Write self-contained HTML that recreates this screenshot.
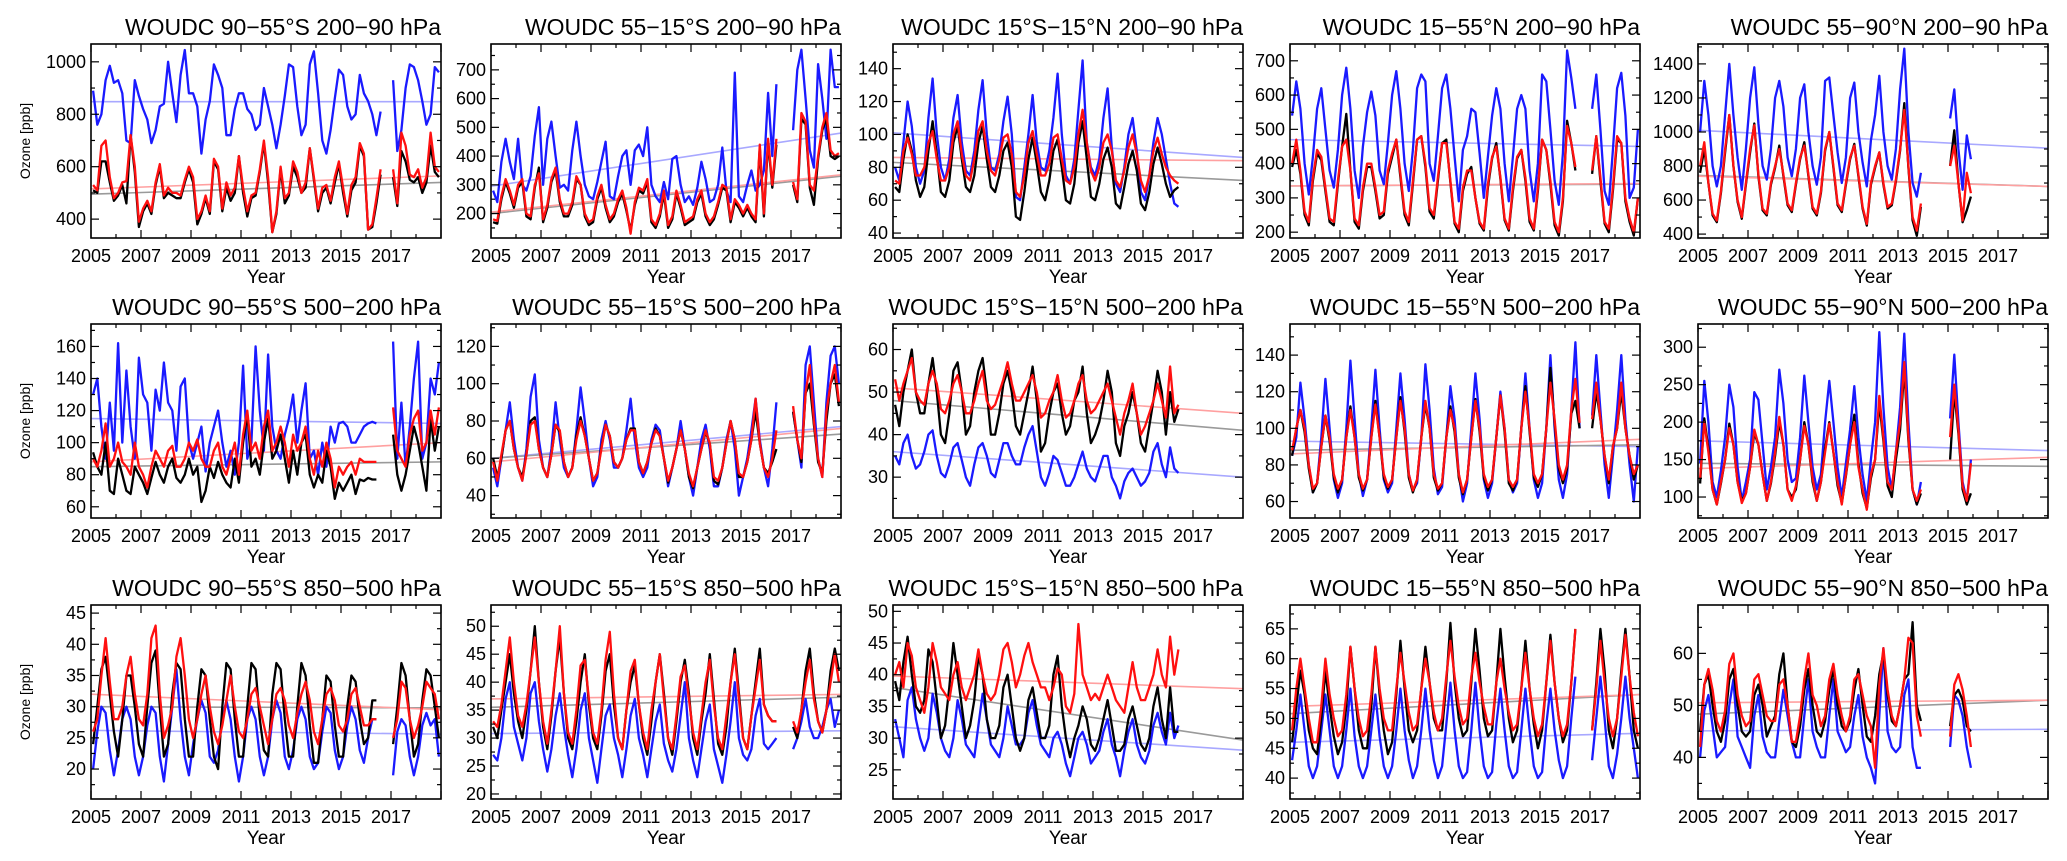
<!DOCTYPE html>
<html><head><meta charset="utf-8"><title>WOUDC ozone</title>
<style>
html,body{margin:0;padding:0;background:#fff;}
svg{display:block;font-family:"Liberation Sans",Arial,sans-serif;}
</style></head>
<body>
<svg id="chart" width="2067" height="861" viewBox="0 0 2067 861" xmlns="http://www.w3.org/2000/svg">
<rect width="2067" height="861" fill="#fff"/>
</svg>
<script>
const titles=["WOUDC 90−55°S 200−90 hPa","WOUDC 55−15°S 200−90 hPa","WOUDC 15°S−15°N 200−90 hPa","WOUDC 15−55°N 200−90 hPa","WOUDC 55−90°N 200−90 hPa",
"WOUDC 90−55°S 500−200 hPa","WOUDC 55−15°S 500−200 hPa","WOUDC 15°S−15°N 500−200 hPa","WOUDC 15−55°N 500−200 hPa","WOUDC 55−90°N 500−200 hPa",
"WOUDC 90−55°S 850−500 hPa","WOUDC 55−15°S 850−500 hPa","WOUDC 15°S−15°N 850−500 hPa","WOUDC 15−55°N 850−500 hPa","WOUDC 55−90°N 850−500 hPa"];
const yLo=[328,115,37,183,377, 53,28,20.4,51,72, 15.2,19.1,20.4,36.5,32];
const yHi=[1068,790,155,749,1517, 174,132,66,157,331, 46.3,53.8,51,69,69.3];
const yStep=[200,100,20,100,200, 20,20,10,20,50, 5,5,5,5,10];
const xTickLabels=[2005,2007,2009,2011,2013,2015,2017];
const trendBlue=[[848,848],[295,480],[101,86],[470,450],[1010,905],[115,112],[60,77],[36,30],[93,90],[175,162],[26.2,25.6],[30.8,31.3],[31.8,28.1],[46,47.5],[45.1,45.4]];
const trendRed=[[515,565],[205,335],[86,84],[335,342],[740,680],[88,100],[58,76],[51,45],[86,94],[138,153],[32,29.5],[37,37.8],[39.8,37.8],[52,54],[50.5,51]];
const trendBlack=[[495,540],[200,330],[83,72],[335,340],[745,680],[85,88],[60,73],[48,41],[88,91],[145,141],[30,29.8],[35.5,37.3],[38,29.7],[50.8,54],[48.3,51]];
const N=null;
// row1
const b11=[890,760,800,930,985,920, 930,880,700,690,930,870, 820,780,690,740,830,840, 1000,880,770,950,1045,880, 880,830,650,780,850,990, 950,900,720,720,820,880, 880,820,800,740,760,900, 830,760,670,760,870,990, 980,830,720,760,990,1040, 880,700,650,740,860,970, 950,830,780,800,950,880, 850,800,720,810,N,N, 930,660,740,900,990,980, 930,850,760,800,980,960];
const r11=[530,510,680,700,560,480, 500,540,545,720,600,390, 440,470,430,540,610,490, 520,500,500,490,550,600, 560,400,430,490,430,630, 600,440,540,490,520,640, 520,430,490,500,590,700, 560,350,430,600,480,500, 620,580,500,540,670,560, 440,520,530,470,560,620, 520,420,530,560,690,650, 360,380,480,590,N,N, 590,460,730,680,570,560, 590,520,560,730,600,580];
const k11=[510,500,620,620,540,470, 490,530,460,720,580,370, 430,460,420,530,600,480, 500,490,480,480,540,590, 540,380,420,480,420,620, 590,430,520,470,500,640, 500,410,480,490,580,690, 540,350,420,590,460,490, 600,560,500,520,670,550, 430,500,520,460,540,610, 500,410,510,540,680,640, 360,370,460,570,N,N, 560,450,660,620,550,540, 560,500,540,680,580,560];
const b12=[280,240,380,460,380,320, 460,300,280,330,470,570, 300,460,520,400,290,300, 280,420,520,400,300,260, 250,310,380,450,260,250, 330,400,420,300,420,440, 400,500,300,260,240,310, 250,390,400,300,240,260, 230,290,380,320,240,250, 300,430,280,240,690,260, 240,300,350,280,300,350, 620,400,650,N,N,N, 490,700,770,600,420,360, 720,600,460,770,640,640];
const r12=[180,175,260,320,280,230, 300,320,200,190,300,340, 180,230,320,360,250,200, 200,240,330,300,200,170, 180,260,300,230,180,200, 250,280,220,130,240,290, 280,320,180,160,200,280, 160,190,280,230,170,180, 190,250,280,200,170,190, 240,300,290,180,250,230, 200,230,200,180,440,200, 460,300,460,N,N,N, 310,250,550,520,300,280, 400,500,550,420,400,410];
const k12=[170,165,250,310,270,220, 290,310,190,180,290,360, 170,220,310,350,240,190, 190,230,320,300,190,160, 170,250,290,220,170,190, 240,270,210,140,230,280, 270,310,170,150,190,270, 150,180,270,220,160,170, 180,240,270,190,160,180, 230,290,280,170,240,220, 190,220,190,170,430,190, 450,290,440,N,N,N, 300,240,530,510,290,230, 390,490,530,400,390,400];
const b13=[80,72,95,120,105,80, 70,78,110,134,100,80, 72,85,110,124,95,78, 75,90,115,133,100,80, 78,88,108,123,100,62, 60,80,100,124,95,80, 78,90,110,137,100,75, 70,85,115,145,95,80, 75,85,110,128,92,70, 65,80,100,110,90,65, 60,75,95,110,100,85, 70,58,56];
const r13=[72,70,90,98,88,75, 75,80,95,102,85,72, 72,80,100,108,88,75, 72,85,102,108,90,78, 75,85,98,100,88,65, 62,75,95,102,88,75, 75,82,98,100,85,72, 70,80,100,115,95,78, 72,80,95,100,90,72, 68,78,92,100,88,72, 65,75,90,98,88,80, 75,72,70];
const k13=[68,65,85,100,90,72, 62,68,90,108,88,65, 62,72,95,105,85,68, 65,75,95,105,85,68, 65,75,90,95,80,50, 48,65,85,98,82,65, 60,72,90,97,80,60, 58,70,95,108,85,62, 60,70,85,92,80,58, 55,68,82,90,78,58, 54,65,82,92,82,70, 62,66,68];
const b14=[540,640,560,400,310,420, 560,620,500,380,330,440, 600,680,560,380,300,450, 550,610,540,380,340,460, 600,670,560,400,320,440, 620,660,640,400,350,480, 620,660,560,420,290,440, 480,560,550,430,300,420, 540,620,560,400,290,420, 560,600,560,380,290,400, 660,640,500,350,280,430, 730,650,560,N,N,N, 560,660,500,320,280,440, 620,665,540,300,330,500];
const r14=[400,470,380,260,230,360, 440,420,330,240,230,350, 450,470,380,240,220,330, 400,400,330,250,260,380, 430,470,370,260,230,350, 470,480,400,270,250,360, 460,460,350,230,210,330, 380,380,300,230,210,340, 420,450,360,240,210,330, 420,440,360,240,210,330, 470,440,350,230,200,300, 510,460,390,N,N,N, 380,480,360,230,210,330, 480,460,300,240,200,300];
const k14=[390,440,370,250,220,350, 430,410,320,230,220,340, 450,545,380,230,210,320, 390,390,320,240,250,370, 420,470,360,250,220,340, 470,480,390,260,240,350, 460,470,345,225,200,320, 370,390,300,225,205,330, 415,460,355,235,205,320, 415,440,350,230,205,320, 470,440,340,220,190,290, 525,460,380,N,N,N, 370,480,350,225,200,320, 470,460,290,230,190,300];
const b15=[1000,1300,1100,800,680,800, 1100,1400,1100,850,660,900, 1200,1380,1050,800,720,900, 1200,1300,1150,850,740,900, 1200,1280,1000,800,690,850, 1300,1320,1100,880,700,850, 1200,1290,1000,820,680,950, 1100,1330,1000,800,720,900, 1250,1490,1000,700,620,760, N,N,N,N,N,N, 1080,1250,900,660,980,840];
const r15=[800,940,700,520,480,650, 900,1100,800,600,500,700, 900,1040,750,550,520,700, 800,900,750,580,540,700, 850,920,750,560,520,650, 900,1000,800,580,540,700, 850,920,750,560,460,700, 800,880,700,560,580,720, 900,1130,800,500,420,580, N,N,N,N,N,N, 800,920,700,480,760,640];
const k15=[760,900,700,510,470,640, 880,1100,800,590,490,690, 880,1050,740,540,510,690, 790,920,740,570,530,690, 840,940,740,550,510,640, 890,1000,790,570,530,690, 840,930,740,550,450,690, 790,880,690,550,570,710, 890,1170,790,480,390,560, N,N,N,N,N,N, 800,1010,700,470,540,620];
// row2
const b21=[130,140,110,90,125,95, 162,100,145,110,90,153, 130,125,95,133,120,150, 125,120,95,135,140,100, 90,100,110,82,100,110, 120,100,85,95,80,100, 148,90,100,160,120,95, 155,110,95,90,105,115, 130,100,120,137,90,95, 80,100,85,110,100,112, 113,110,100,100,105,110, 112,113,112,N,N,N, 163,90,125,85,110,140, 163,90,100,140,130,150];
const r21=[90,85,95,112,85,90, 100,88,85,80,100,85, 80,72,85,95,90,85, 95,98,85,85,90,100, 95,102,90,85,85,95, 100,85,80,90,100,80, 105,120,95,100,90,110, 120,95,100,110,100,85, 105,95,100,110,90,80, 95,85,100,90,72,85, 80,85,88,80,90,88, 88,88,88,N,N,N, 122,95,90,85,105,115, 120,95,100,120,105,122];
const k21=[94,85,80,100,70,68, 90,80,70,68,85,80, 75,68,78,88,80,75, 85,90,78,75,80,90, 80,85,63,70,85,78, 88,80,75,72,90,75, 100,118,85,90,80,100, 115,90,95,105,90,75, 95,80,100,105,80,72, 80,75,95,85,65,75, 70,75,80,68,77,76, 78,77,77,N,N,N, 105,80,70,80,95,110, 100,85,70,115,95,110];
const b22=[55,45,60,75,90,70, 55,48,65,93,105,70, 55,50,65,90,70,55, 50,55,75,98,80,60, 45,50,70,80,70,55, 55,60,75,92,70,55, 50,55,70,78,75,60, 45,55,65,80,65,50, 40,55,70,78,65,45, 45,55,70,80,65,40, 50,60,75,92,70,55, 45,65,90,N,N,N, 85,70,55,110,120,90, 60,50,90,115,120,100];
const r22=[58,48,62,75,80,65, 55,48,62,78,80,65, 55,50,62,78,75,58, 50,55,70,80,72,60, 48,52,65,78,72,58, 55,60,70,75,75,58, 52,58,68,75,72,60, 48,55,65,75,65,52, 45,55,65,75,68,50, 48,55,68,80,70,52, 50,58,70,92,68,55, 50,60,75,N,N,N, 88,70,60,95,110,80, 60,50,85,100,110,90];
const k22=[60,50,60,75,80,65, 55,50,62,80,82,65, 55,50,62,78,74,58, 50,55,72,82,72,60, 48,52,66,78,72,58, 55,60,70,76,76,58, 52,58,68,76,72,60, 47,55,65,75,65,50, 44,55,65,74,68,48, 46,55,68,80,70,50, 50,58,70,85,68,55, 52,58,65,N,N,N, 85,70,58,95,100,78, 58,52,80,100,105,88];
const b23=[35,33,38,40,35,32, 33,36,40,41,35,31, 30,33,37,38,34,30, 28,33,37,38,35,31, 30,34,38,38,35,33, 33,37,40,42,36,30, 28,31,35,34,31,28, 28,30,33,36,32,30, 29,32,35,35,30,28, 25,29,31,32,30,28, 29,31,36,38,33,30, 37,32,31];
const r23=[53,48,52,55,58,50, 48,47,52,55,52,46, 45,48,52,54,50,45, 45,48,52,55,48,46, 47,50,53,57,52,48, 48,50,52,54,50,44, 45,48,50,54,48,44, 45,48,52,54,48,45, 46,48,50,52,48,44, 40,45,48,52,45,40, 42,45,48,52,48,44, 56,45,47];
const k23=[47,42,50,55,60,50, 45,45,52,58,50,40, 38,45,55,57,50,40, 42,50,55,58,50,40, 40,45,52,55,50,42, 40,45,50,56,48,36, 38,45,50,52,45,40, 42,48,50,56,45,38, 40,43,48,55,50,38, 35,42,45,50,45,38, 36,42,48,55,50,40, 50,43,46];
const b24=[85,95,125,105,80,65, 70,95,127,100,72,62, 70,100,137,105,75,63, 72,100,132,100,72,65, 70,100,130,105,75,66, 70,95,135,110,78,64, 68,95,123,105,75,60, 70,100,130,105,72,62, 70,95,120,100,72,65, 70,100,130,100,72,62, 70,100,140,100,72,62, 75,110,147,100,N,N, 107,140,110,80,62,85, 110,140,105,80,60,90];
const r24=[88,100,110,100,80,67, 70,90,107,95,75,67, 72,95,110,95,75,67, 72,95,113,95,75,68, 72,95,115,100,75,66, 72,95,115,100,75,67, 70,95,110,100,75,65, 72,95,115,100,75,68, 72,95,118,100,72,68, 72,100,120,100,75,70, 75,100,125,105,80,72, 80,110,127,103,N,N, 105,125,105,85,72,90, 100,125,100,85,75,80];
const k24=[85,100,110,98,78,65, 70,90,107,93,73,65, 72,95,112,95,73,66, 72,95,115,95,73,67, 72,95,117,98,73,65, 72,95,113,100,73,66, 70,95,112,98,73,64, 72,95,116,98,73,66, 72,95,118,98,70,66, 72,100,123,98,73,68, 75,100,133,103,78,70, 78,108,115,100,N,N, 100,120,105,85,70,90, 100,120,100,85,72,80];
const b25=[145,255,200,120,100,135, 180,250,220,140,95,120, 150,240,230,170,110,140, 180,270,225,150,120,125, 180,262,200,140,110,130, 200,255,200,140,100,145, 190,248,180,130,95,150, 200,320,220,140,110,160, 220,318,200,110,90,120, N,N,N,N,N,N, 205,290,200,120,95,150];
const r25=[125,200,160,110,90,120, 150,192,170,120,92,105, 140,190,170,130,95,120, 160,207,170,110,95,115, 150,195,170,125,95,120, 160,198,160,120,90,130, 170,200,140,110,83,130, 150,235,180,120,110,160, 200,280,180,110,95,110, N,N,N,N,N,N, 180,250,190,115,95,145];
const k25=[118,205,165,110,90,118, 150,198,170,120,95,105, 140,185,170,130,95,118, 155,200,170,110,100,110, 150,200,170,120,95,120, 165,200,160,115,92,128, 170,210,145,105,85,125, 150,225,175,115,100,150, 190,270,175,110,90,105, N,N,N,N,N,N, 150,240,185,110,90,105];
// row3
const b31=[20,26,30,29,23,19, 23,28,30,28,22,19, 22,27,30,29,22,18, 24,30,36,28,22,19, 24,28,31,29,22,21, 23,28,31,28,22,18, 22,28,30,28,22,19, 22,28,31,29,22,20, 23,28,30,28,22,20, 21,26,30,29,23,20, 22,27,30,28,23,21, 25,28,28,N,N,N, 19,26,28,27,22,19, 22,27,29,27,28,22];
const r31=[26,28,35,41,34,28, 28,30,35,38,32,28, 27,32,41,43,32,25, 27,30,38,41,35,28, 25,28,32,35,30,26, 24,27,31,35,30,26, 25,28,32,33,30,27, 24,28,32,33,31,27, 25,29,32,34,31,26, 24,28,32,33,31,27, 26,28,32,33,30,27, 27,28,28,N,N,N, 25,28,34,33,28,25, 27,30,34,33,32,28];
const k31=[24,30,36,38,32,26, 22,28,35,35,30,24, 22,30,37,39,30,22, 24,32,37,36,28,22, 22,30,36,35,28,22, 20,30,37,36,28,22, 22,30,37,36,28,23, 22,32,37,36,28,22, 22,30,37,35,27,21, 21,28,35,34,27,22, 22,30,35,34,28,24, 25,31,31,N,N,N, 24,30,37,35,28,22, 24,31,36,35,30,25];
const b32=[27,26,30,37,40,32, 29,26,30,38,40,33, 28,24,28,34,38,32, 27,23,28,35,38,30, 26,22,28,34,36,30, 27,23,28,34,37,30, 27,23,28,33,36,29, 26,24,28,34,40,30, 26,23,28,33,36,28, 25,22,27,33,40,30, 27,26,28,34,37,29, 28,29,30,N,N,N, 28,30,33,37,32,30, 30,32,35,37,32,35];
const r32=[33,32,36,42,48,40, 34,32,36,42,48,40, 33,29,35,42,50,38, 31,29,35,43,44,37, 31,29,35,44,49,38, 30,28,35,42,44,36, 31,28,35,40,45,37, 30,28,34,41,43,37, 31,28,34,40,44,36, 30,28,34,40,45,37, 30,28,34,39,44,36, 34,33,33,N,N,N, 33,31,35,40,44,37, 33,31,35,40,45,40];
const k32=[32,30,35,40,45,38, 33,30,35,42,50,40, 32,28,34,42,48,38, 30,28,33,40,45,36, 30,28,34,42,45,36, 30,28,35,40,43,36, 30,27,33,40,45,38, 30,27,33,40,44,38, 30,27,33,38,45,37, 29,27,32,40,46,38, 30,28,34,40,46,36, 34,33,33,N,N,N, 32,30,35,42,46,38, 33,31,35,42,46,42];
const b33=[33,30,27,36,38,33, 30,28,30,37,34,30, 28,27,30,36,33,29, 28,27,32,37,33,29, 28,27,30,35,32,29, 29,30,34,36,32,29, 28,27,30,31,29,26, 24,27,30,31,29,26, 27,28,31,33,29,27, 24,28,31,33,29,27, 26,28,32,34,31,29, 34,30,32];
const r33=[40,42,38,45,43,38, 36,34,38,45,42,38, 37,36,40,42,38,36, 38,40,44,40,37,36, 37,40,44,45,42,38, 40,43,45,42,40,38, 38,36,38,41,40,35, 34,37,48,40,38,36, 37,36,38,40,38,36, 35,34,38,42,38,36, 36,38,40,44,40,38, 46,40,44];
const k33=[39,36,42,46,40,35, 34,36,44,42,36,30, 32,38,45,40,35,30, 32,36,43,40,33,30, 30,32,38,40,35,30, 28,30,36,38,34,30, 30,32,40,43,35,30, 27,30,32,35,33,29, 28,30,33,36,32,28, 28,29,33,35,32,29, 28,30,35,38,33,30, 38,31,31];
const b34=[43,48,54,48,42,40, 42,48,54,48,42,40, 42,48,55,47,42,40, 42,48,54,47,42,40, 42,48,55,48,43,40, 42,48,55,48,43,40, 42,49,56,48,42,40, 41,48,56,48,42,40, 41,49,55,48,42,40, 41,48,55,48,42,40, 41,49,55,48,43,40, 42,50,57,N,N,N, 43,50,57,50,42,40, 44,50,57,50,45,40];
const r34=[48,55,60,55,50,46, 46,52,60,54,50,47, 48,54,62,55,50,47, 48,54,62,55,50,48, 48,55,61,56,51,48, 49,55,60,56,51,48, 50,57,63,57,52,49, 50,57,61,56,52,49, 49,56,60,55,51,48, 49,55,61,55,50,47, 49,56,63,56,50,47, 49,56,65,N,N,N, 48,55,63,56,50,47, 50,57,64,57,51,47];
const k34=[46,52,58,54,48,45, 44,50,58,52,47,44, 46,52,62,55,48,45, 45,52,62,54,48,44, 46,54,63,55,48,46, 48,55,62,56,50,48, 48,56,66,56,50,47, 48,56,65,58,50,47, 48,56,65,57,50,46, 48,55,63,55,49,45, 48,56,64,56,50,46, 48,56,65,N,N,N, 48,56,65,58,48,45, 50,58,65,57,48,45];
const b35=[40,49,52,46,40,41, 42,50,55,44,42,40, 38,48,52,44,41,40, 40,47,53,48,43,40, 40,48,55,45,42,40, 40,48,55,45,43,41, 42,48,52,44,40,38, 35,48,61,45,42,41, 42,52,55,42,38,38, N,N,N,N,N,N, 42,52,51,48,42,38];
const r35=[42,54,57,53,47,45, 49,58,60,52,48,46, 47,55,56,52,48,47, 47,54,55,50,43,43, 48,55,60,52,50,46, 48,55,58,52,48,45, 48,55,56,52,48,46, 38,54,61,53,48,46, 50,55,63,62,48,44, N,N,N,N,N,N, 44,54,56,53,48,42];
const k35=[45,54,56,50,45,43, 47,55,57,50,45,44, 45,52,54,50,44,46, 48,56,60,50,43,42, 46,53,57,50,45,44, 47,53,57,50,46,45, 47,53,57,50,44,43, 48,56,60,52,47,46, 50,55,56,66,50,47, N,N,N,N,N,N, 46,52,53,51,46,45];

const blueSeries=[b11,b12,b13,b14,b15,b21,b22,b23,b24,b25,b31,b32,b33,b34,b35];
const redSeries=[r11,r12,r13,r14,r15,r21,r22,r23,r24,r25,r31,r32,r33,r34,r35];
const blackSeries=[k11,k12,k13,k14,k15,k21,k22,k23,k24,k25,k31,k32,k33,k34,k35];

const NS="http://www.w3.org/2000/svg";
const svg=document.getElementById('chart');
const lefts=[91,491,893,1290,1698], tops=[44,324,605], W=350, H=194;
const X0=2005, X1=2019;
function mk(tag,attrs,parent){const e=document.createElementNS(NS,tag);for(const k in attrs)e.setAttribute(k,attrs[k]);(parent||svg).appendChild(e);return e;}

for(let p=0;p<15;p++){
  const L=lefts[p%5], T=tops[Math.floor(p/5)];
  const lo=yLo[p], hi=yHi[p], st=yStep[p];
  const sx=t=>L+(t-X0)/(X1-X0)*W;
  const sy=v=>T+H-(v-lo)/(hi-lo)*H;
  const g=mk('g',{});
  
  
  const ttl=mk('text',{x:L+W,y:T-9,'text-anchor':'end','font-size':23,fill:'#000'},g);
  ttl.textContent=titles[p];
  
  
  const clipId='c'+p;
  const cp=mk('clipPath',{id:clipId},g);mk('rect',{x:L,y:T,width:W,height:H},cp);
  const plot=mk('g',{'clip-path':'url(#'+clipId+')'},g);
  // trends
  const tr=[[trendBlue[p],'#a8a8ff','trend-line-blue'],[trendBlack[p],'#9a9a9a','trend-line-black'],[trendRed[p],'#ffa0a0','trend-line-red']];
  tr.forEach(([v,c,n])=>{
    const l=mk('line',{x1:sx(X0),y1:sy(v[0]),x2:sx(X1),y2:sy(v[1]),stroke:c,'stroke-width':1.6},plot);
    
    
  });
  // series
  const ser=[[blueSeries[p],'#1a1aff','series-blue'],[blackSeries[p],'#000','series-black'],[redSeries[p],'#ff1010','series-red']];
  ser.forEach(([arr,c,n])=>{
    let d='',pen=false;
    for(let i=0;i<arr.length;i++){
      if(arr[i]===null){pen=false;continue;}
      const t=X0+i/6+1/12;
      d+=(pen?'L':'M')+sx(t).toFixed(1)+' '+sy(arr[i]).toFixed(1);
      pen=true;
    }
    const path=mk('path',{d:d,fill:'none',stroke:c,'stroke-width':2.3,'stroke-linejoin':'round'},plot);
    
    
  });
  // frame
  const fr=mk('rect',{x:L,y:T,width:W,height:H,fill:'none',stroke:'#000','stroke-width':1.6},g);
  
  
  // x ticks
  for(let yr=X0;yr<=X1;yr++){
    const x=sx(yr), len=((yr-X0)%2===0)?8:4;
    mk('line',{x1:x,y1:T+H,x2:x,y2:T+H-len,stroke:'#000','stroke-width':1.2},g);
    mk('line',{x1:x,y1:T,x2:x,y2:T+len,stroke:'#000','stroke-width':1.2},g);
  }
  xTickLabels.forEach(yr=>{
    const tx=mk('text',{x:sx(yr),y:T+H+24,'text-anchor':'middle','font-size':18,fill:'#000'},g);
    tx.textContent=yr;
    
    
  });
  const xt=mk('text',{x:L+W/2,y:T+H+45,'text-anchor':'middle','font-size':19,fill:'#000'},g);
  xt.textContent='Year';
  
  
  // y ticks
  const half=st/2;
  for(let v=Math.ceil(lo/half)*half;v<=hi+1e-9;v+=half){
    const y=sy(v), major=Math.abs(v/st-Math.round(v/st))<1e-6, len=major?8:4;
    mk('line',{x1:L,y1:y,x2:L+len,y2:y,stroke:'#000','stroke-width':1.2},g);
    mk('line',{x1:L+W,y1:y,x2:L+W-len,y2:y,stroke:'#000','stroke-width':1.2},g);
    if(major){
      const ty=mk('text',{x:L-5,y:y+6,'text-anchor':'end','font-size':18,fill:'#000'},g);
      ty.textContent=Math.round(v);
      
      
    }
  }
  if(p%5===0){
    const yl=mk('text',{x:0,y:0,'text-anchor':'middle','font-size':14,fill:'#000',transform:'translate(30,'+(T+H/2)+') rotate(-90)'},g);
    yl.textContent='Ozone [ppb]';
    
    
  }
}
</script>
</body></html>
